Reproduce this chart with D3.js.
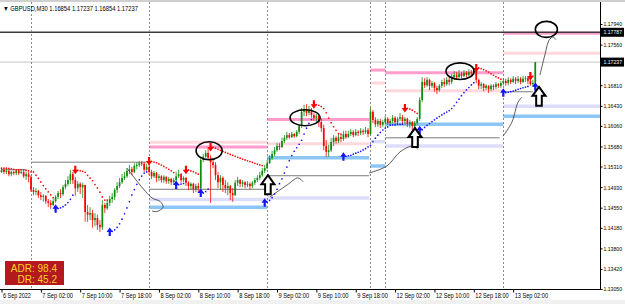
<!DOCTYPE html>
<html>
<head>
<meta charset="utf-8">
<script src="https://cdn.jsdelivr.net/npm/d3@7"></script>
<style>
body { margin: 0; background: #fff; }
svg { display: block; }
</style>
</head>
<body>
<svg id="chart" width="625" height="304"></svg>
<script>
// GBPUSD M30 bars, 6 Sep 17:30 -> 13 Sep 06:30 (open of a bar = close of the previous one)
const firstOpen = 1.1521;
const closes = [
  1.1525, 1.1521, 1.1523, 1.1517, 1.1521, 1.1519, 1.1523, 1.1519, 1.1521, 1.1513, 1.1517, 1.1512,
  1.1488, 1.1484, 1.1486, 1.1478, 1.1475, 1.1477, 1.1467, 1.1464, 1.1460, 1.1467, 1.1475, 1.1482,
  1.1480, 1.1493, 1.1499, 1.1506, 1.1517, 1.1506, 1.1491, 1.1499, 1.1493, 1.1497, 1.1447, 1.1442,
  1.1445, 1.1432, 1.1436, 1.1423, 1.1419, 1.1460, 1.1454, 1.1464, 1.1471, 1.1475, 1.1488, 1.1495,
  1.1502, 1.1510, 1.1513, 1.1523, 1.1526, 1.1521, 1.1532, 1.1534, 1.1537, 1.1536, 1.1525, 1.1530,
  1.1521, 1.1513, 1.1519, 1.1510, 1.1513, 1.1506, 1.1512, 1.1504, 1.1508, 1.1502, 1.1506, 1.1513,
  1.1517, 1.1506, 1.1510, 1.1501, 1.1495, 1.1499, 1.1489, 1.1495, 1.1491, 1.1543, 1.1549, 1.1556,
  1.1547, 1.1539, 1.1534, 1.1515, 1.1502, 1.1510, 1.1497, 1.1491, 1.1495, 1.1482, 1.1478, 1.1501,
  1.1506, 1.1499, 1.1502, 1.1497, 1.1499, 1.1495, 1.1501, 1.1506, 1.1510, 1.1515, 1.1523, 1.1528,
  1.1537, 1.1547, 1.1554, 1.1561, 1.1569, 1.1567, 1.1578, 1.1584, 1.1589, 1.1585, 1.1591, 1.1587,
  1.1595, 1.1606, 1.1632, 1.1635, 1.1630, 1.1635, 1.1626, 1.1621, 1.1624, 1.1613, 1.1602, 1.1569,
  1.1558, 1.1561, 1.1576, 1.1584, 1.1578, 1.1585, 1.1582, 1.1591, 1.1585, 1.1591, 1.1595, 1.1589,
  1.1595, 1.1593, 1.1597, 1.1595, 1.1598, 1.1591, 1.1632, 1.1617, 1.1609, 1.1615, 1.1608, 1.1613,
  1.1619, 1.1611, 1.1615, 1.1621, 1.1613, 1.1619, 1.1622, 1.1615, 1.1619, 1.1609, 1.1613, 1.1606,
  1.1611, 1.1619, 1.1654, 1.1687, 1.1681, 1.1691, 1.1680, 1.1685, 1.1676, 1.1672, 1.1680, 1.1687,
  1.1683, 1.1691, 1.1687, 1.1696, 1.1700, 1.1696, 1.1702, 1.1698, 1.1704, 1.1700, 1.1705, 1.1704,
  1.1707, 1.1691, 1.1680, 1.1683, 1.1676, 1.1680, 1.1674, 1.1680, 1.1678, 1.1683, 1.1680, 1.1685,
  1.1689, 1.1685, 1.1691, 1.1687, 1.1693, 1.1689, 1.1693, 1.1687, 1.1693, 1.1694, 1.1689, 1.1683,
  1.16854, 1.17237
];
const highs = [
  1.1528, 1.1526, 1.1526, 1.1525, 1.1523, 1.1523, 1.1525, 1.1525, 1.1523, 1.1523, 1.1521, 1.1521,
  1.1515, 1.1493, 1.1491, 1.1488, 1.1484, 1.1480, 1.1478, 1.1471, 1.1469, 1.1471, 1.1478, 1.1486,
  1.1489, 1.1497, 1.1506, 1.1513, 1.1525, 1.1521, 1.1512, 1.1504, 1.1502, 1.1501, 1.1497, 1.1460,
  1.1456, 1.1451, 1.1445, 1.1442, 1.1432, 1.1469, 1.1464, 1.1469, 1.1477, 1.1482, 1.1491, 1.1502,
  1.1510, 1.1517, 1.1521, 1.1528, 1.1534, 1.1530, 1.1537, 1.1539, 1.1541, 1.1541, 1.1539, 1.1536,
  1.1537, 1.1525, 1.1523, 1.1521, 1.1517, 1.1515, 1.1515, 1.1513, 1.1512, 1.1510, 1.1510, 1.1521,
  1.1525, 1.1519, 1.1513, 1.1512, 1.1504, 1.1502, 1.1501, 1.1499, 1.1501, 1.1549, 1.1554, 1.1561,
  1.1567, 1.1552, 1.1547, 1.1539, 1.1521, 1.1515, 1.1513, 1.1506, 1.1502, 1.1497, 1.1491, 1.1506,
  1.1512, 1.1508, 1.1506, 1.1504, 1.1504, 1.1502, 1.1504, 1.1510, 1.1515, 1.1521, 1.1528, 1.1534,
  1.1543, 1.1552, 1.1560, 1.1567, 1.1574, 1.1574, 1.1584, 1.1589, 1.1595, 1.1593, 1.1595, 1.1593,
  1.1598, 1.1609, 1.1639, 1.1645, 1.1646, 1.1643, 1.1639, 1.1630, 1.1628, 1.1626, 1.1619, 1.1608,
  1.1580, 1.1571, 1.1584, 1.1589, 1.1587, 1.1591, 1.1591, 1.1597, 1.1597, 1.1597, 1.1600, 1.1598,
  1.1600, 1.1598, 1.1602, 1.1600, 1.1604, 1.1602, 1.1639, 1.1635, 1.1622, 1.1619, 1.1619, 1.1617,
  1.1624, 1.1622, 1.1619, 1.1626, 1.1624, 1.1622, 1.1630, 1.1626, 1.1622, 1.1621, 1.1617, 1.1615,
  1.1615, 1.1622, 1.1659, 1.1696, 1.1694, 1.1696, 1.1693, 1.1689, 1.1687, 1.1680, 1.1683, 1.1691,
  1.1694, 1.1696, 1.1698, 1.1702, 1.1707, 1.1705, 1.1709, 1.1705, 1.1709, 1.1707, 1.1711, 1.1709,
  1.1713, 1.1709, 1.1693, 1.1687, 1.1685, 1.1683, 1.1681, 1.1683, 1.1683, 1.1687, 1.1685, 1.1689,
  1.1694, 1.1693, 1.1696, 1.1694, 1.1698, 1.1696, 1.1698, 1.1696, 1.1698, 1.1698, 1.1698, 1.1693,
  1.1691, 1.17237
];
const lows = [
  1.1519, 1.1517, 1.1517, 1.1513, 1.1513, 1.1515, 1.1515, 1.1515, 1.1517, 1.1510, 1.1506, 1.1502,
  1.1484, 1.1478, 1.1478, 1.1473, 1.1469, 1.1466, 1.1462, 1.1456, 1.1453, 1.1458, 1.1464, 1.1471,
  1.1473, 1.1477, 1.1489, 1.1495, 1.1499, 1.1499, 1.1477, 1.1484, 1.1480, 1.1473, 1.1429, 1.1429,
  1.1432, 1.1418, 1.1421, 1.1414, 1.1410, 1.1414, 1.1445, 1.1451, 1.1458, 1.1464, 1.1469, 1.1482,
  1.1491, 1.1499, 1.1506, 1.1510, 1.1517, 1.1515, 1.1519, 1.1526, 1.1530, 1.1532, 1.1521, 1.1523,
  1.1515, 1.1508, 1.1510, 1.1502, 1.1504, 1.1501, 1.1501, 1.1499, 1.1499, 1.1497, 1.1499, 1.1502,
  1.1510, 1.1501, 1.1502, 1.1495, 1.1488, 1.1488, 1.1482, 1.1484, 1.1482, 1.1488, 1.1539, 1.1547,
  1.1543, 1.1464, 1.1528, 1.1506, 1.1491, 1.1488, 1.1484, 1.1482, 1.1478, 1.1469, 1.1466, 1.1477,
  1.1495, 1.1493, 1.1493, 1.1491, 1.1493, 1.1489, 1.1491, 1.1497, 1.1502, 1.1506, 1.1512, 1.1519,
  1.1526, 1.1536, 1.1543, 1.1550, 1.1558, 1.1561, 1.1565, 1.1574, 1.1580, 1.1582, 1.1584, 1.1584,
  1.1585, 1.1591, 1.1602, 1.1624, 1.1624, 1.1626, 1.1621, 1.1615, 1.1613, 1.1604, 1.1595, 1.1561,
  1.1549, 1.1549, 1.1558, 1.1569, 1.1573, 1.1574, 1.1576, 1.1578, 1.1582, 1.1584, 1.1587, 1.1585,
  1.1587, 1.1587, 1.1589, 1.1589, 1.1591, 1.1585, 1.1589, 1.1611, 1.1604, 1.1604, 1.1602, 1.1604,
  1.1608, 1.1608, 1.1608, 1.1611, 1.1609, 1.1609, 1.1615, 1.1609, 1.1608, 1.1604, 1.1602, 1.1598,
  1.1602, 1.1608, 1.1615, 1.1650, 1.1676, 1.1678, 1.1672, 1.1676, 1.1669, 1.1665, 1.1669, 1.1676,
  1.1678, 1.1680, 1.1681, 1.1683, 1.1693, 1.1691, 1.1694, 1.1694, 1.1696, 1.1696, 1.1698, 1.1698,
  1.1700, 1.1685, 1.1674, 1.1674, 1.1670, 1.1672, 1.1667, 1.1670, 1.1672, 1.1674, 1.1676, 1.1676,
  1.1681, 1.1680, 1.1681, 1.1683, 1.1685, 1.1683, 1.1685, 1.1683, 1.1685, 1.1687, 1.1683, 1.1680,
  1.1678, 1.16854
];

// axis ticks
const timeTickIdx = [0, 16, 32, 48, 64, 80, 96, 112, 128, 144, 160, 176, 192, 208];
const timeTickLabels = ["6 Sep 2022", "7 Sep 02:00", "7 Sep 10:00", "7 Sep 18:00", "8 Sep 02:00",
  "8 Sep 10:00", "8 Sep 18:00", "9 Sep 02:00", "9 Sep 10:00", "9 Sep 18:00", "12 Sep 02:00",
  "12 Sep 10:00", "12 Sep 18:00", "13 Sep 02:00"];
const priceTicks = [1.1794, 1.1756, 1.1681, 1.1643, 1.1606, 1.1568, 1.1531, 1.1493,
  1.1455, 1.1418, 1.1380, 1.1342, 1.1305];
const separatorIdx = [12, 60, 108, 150, 156, 204];
const markedPrice = 1.17787;
const lastPrice = 1.17237;
const titleText = "\u25BC GBPUSD,M30  1.16854 1.17237 1.16854 1.17237";
const adrText = ["ADR: 98.4", "DR: 45.2"];

// daily levels: [from bar, to bar, price, kind]
const levels = [
  [0, 10, 1.1525, "gray"],
  [12, 59, 1.1539, "gray"],
  [60, 108, 1.1576, "pinkLight"], [60, 108, 1.1567, "pink"], [60, 108, 1.1489, "gray"],
  [60, 108, 1.1470, "lavender"], [60, 108, 1.1456, "blue"],
  [108, 149.5, 1.1618, "pink"], [108, 149.5, 1.1573, "pinkLight"], [108, 149.5, 1.1547, "blue"],
  [108, 149.5, 1.1514, "gray"], [108, 149.5, 1.1473, "lavender"],
  [150, 156, 1.1709, "pink"], [150, 156, 1.1685, "pinkLight"], [150, 156, 1.1577, "lavender"],
  [150, 156, 1.1532, "blue"],
  [156, 204, 1.1704, "pink"], [156, 204, 1.1671, "pinkLight"], [156, 204, 1.1609, "blue"],
  [156, 202.5, 1.1584, "gray"], [156, 204, 1.1569, "lavender"],
  [204, 243.3, 1.1777, "pink"], [204, 243.3, 1.1740, "pinkLight"], [204, 216, 1.1669, "gray"],
  [204, 243.3, 1.1642, "lavender"], [204, 243.3, 1.1624, "blue"]
];

// hand drawn marks, in [bar, price]
const circles = [[84.4, 1.1560], [123.4, 1.1621], [186.4, 1.1707], [221.5, 1.1784]];
const bigArrows = [[108.3, 1.1515], [168.1, 1.1602], [218.5, 1.1678]];
const strokes = [
  [[51, 1.1528], [61.2, 1.1473], [64.4, 1.1467], [65.7, 1.1456], [63.2, 1.1448], [61.2, 1.1449]],
  [[109.2, 1.1475], [116.1, 1.1497], [120.5, 1.1510], [122.6, 1.1503]],
  [[149.4, 1.1519], [156.7, 1.1532], [162, 1.1558], [167.3, 1.1569], [169.3, 1.1563]],
  [[203.9, 1.1587], [207.5, 1.1613], [210, 1.1650], [211.6, 1.1659]],
  [[218.9, 1.1700], [220.9, 1.1737], [222.6, 1.1764], [224.2, 1.1770], [225.4, 1.1765]]
];

// ---------------- rendering ----------------
const PLOT_RIGHT = 600, PLOT_TOP = 2, PLOT_BOTTOM = 289;
const GREEN = "#0e8c0e", RED = "#ff0000", BLUE = "#1414ff";
const levelStyle = {
  pink: ["#ff9ccb", 3], pinkLight: ["#ffd8de", 3], blue: ["#8cc6f6", 3.5],
  lavender: ["#dcdcfb", 3.5], gray: ["#7a7a7a", 1]
};
const circleR = [[13, 9], [15, 8], [14, 8.3], [11, 8]];
const LABEL_FONT = "Liberation Sans, Arial, sans-serif";

const svg = d3.select("#chart");
const x = d3.scaleLinear().domain([0, 217]).range([1.5, 535.3]);
const y = d3.scaleLinear().domain([1.1305, 1.1794]).range([289, 24]);

const bars = closes.map((c, i) => {
  const o = i ? closes[i - 1] : firstOpen;
  return { i, o, c, h: Math.max(highs[i], o, c), l: Math.min(lows[i], o, c) };
});

// Parabolic SAR (0.02 / 0.2)
function parabolicSar(hs, ls, step, maxStep) {
  const out = [];
  let up = false, af = step, ep = ls[0], sar = hs[0];
  out.push({ i: 0, sar, up, flip: false });
  for (let i = 1; i < hs.length; i++) {
    sar = sar + af * (ep - sar);
    let flip = false;
    if (up) {
      sar = Math.min(sar, ls[i - 1], ls[Math.max(0, i - 2)]);
      if (ls[i] < sar) { up = false; flip = true; sar = ep; ep = ls[i]; af = step; }
      else if (hs[i] > ep) { ep = hs[i]; af = Math.min(af + step, maxStep); }
    } else {
      sar = Math.max(sar, hs[i - 1], hs[Math.max(0, i - 2)]);
      if (hs[i] > sar) { up = true; flip = true; sar = ep; ep = hs[i]; af = step; }
      else if (ls[i] < ep) { ep = ls[i]; af = Math.min(af + step, maxStep); }
    }
    out.push({ i, sar, up, flip });
  }
  return out;
}
const sar = parabolicSar(bars.map(d => d.h), bars.map(d => d.l), 0.02, 0.2);

svg.append("rect").attr("width", 625).attr("height", 304).attr("fill", "#fff");
svg.append("rect").attr("y", 300).attr("width", 625).attr("height", 4).attr("fill", "#f0f0f0");
svg.append("rect").attr("width", 625).attr("height", PLOT_TOP).attr("fill", "#cfcfcf");

svg.append("clipPath").attr("id", "plot")
  .append("rect").attr("x", 0).attr("y", PLOT_TOP)
  .attr("width", PLOT_RIGHT).attr("height", PLOT_BOTTOM - PLOT_TOP);
const plot = svg.append("g").attr("clip-path", "url(#plot)");

// level bands
plot.append("g").selectAll("line").data(levels).join("line")
  .attr("x1", d => x(d[0])).attr("x2", d => x(d[1]))
  .attr("y1", d => y(d[2])).attr("y2", d => y(d[2]))
  .attr("stroke", d => levelStyle[d[3]][0])
  .attr("stroke-width", d => levelStyle[d[3]][1]);

// price lines
plot.append("line").attr("x1", 0).attr("x2", PLOT_RIGHT)
  .attr("y1", y(lastPrice)).attr("y2", y(lastPrice))
  .attr("stroke", "#c4c4c4").attr("stroke-width", 1);
plot.append("line").attr("x1", 0).attr("x2", PLOT_RIGHT)
  .attr("y1", y(markedPrice)).attr("y2", y(markedPrice))
  .attr("stroke", "#3a3a3a").attr("stroke-width", 1.6);

// day separators
plot.append("g").selectAll("line").data(separatorIdx).join("line")
  .attr("x1", d => Math.round(x(d)) + 0.5).attr("x2", d => Math.round(x(d)) + 0.5)
  .attr("y1", PLOT_TOP).attr("y2", PLOT_BOTTOM)
  .attr("stroke", "#8a8a8a").attr("stroke-width", 1).attr("stroke-dasharray", "2,2");

// candles
const barColor = d => d.c >= d.o ? GREEN : RED;
const gBars = plot.append("g");
gBars.selectAll("line").data(bars).join("line")
  .attr("x1", d => x(d.i)).attr("x2", d => x(d.i))
  .attr("y1", d => y(d.h)).attr("y2", d => y(d.l))
  .attr("stroke", barColor).attr("stroke-width", 0.8);
gBars.selectAll("rect").data(bars).join("rect")
  .attr("x", d => x(d.i) - 0.85).attr("width", 1.7)
  .attr("y", d => y(Math.max(d.o, d.c)))
  .attr("height", d => Math.max(0.8, Math.abs(y(d.o) - y(d.c))))
  .attr("fill", barColor);

// SAR dots and flip arrows
plot.append("g").selectAll("circle").data(sar.filter(d => !d.flip)).join("circle")
  .attr("cx", d => x(d.i)).attr("cy", d => y(d.sar)).attr("r", 0.85)
  .attr("fill", d => d.up ? BLUE : RED);
const smallArrow = "M0,-4.5 L3.2,0 L1.1,0 L1.1,4 L-1.1,4 L-1.1,0 L-3.2,0 Z";
plot.append("g").selectAll("path").data(sar.filter(d => d.flip)).join("path")
  .attr("d", smallArrow)
  .attr("transform", d => `translate(${x(d.i)},${y(d.sar)}) rotate(${d.up ? 0 : 180})`)
  .attr("fill", d => d.up ? BLUE : RED);

// hand drawn strokes
const strokeLine = d3.line().x(d => x(d[0])).y(d => y(d[1])).curve(d3.curveCatmullRom);
plot.append("g").selectAll("path").data(strokes).join("path")
  .attr("d", strokeLine).attr("fill", "none")
  .attr("stroke", "#333").attr("stroke-width", 0.8);

// circles
plot.append("g").selectAll("ellipse").data(circles).join("ellipse")
  .attr("cx", d => x(d[0])).attr("cy", d => y(d[1]))
  .attr("rx", (d, i) => circleR[i][0]).attr("ry", (d, i) => circleR[i][1])
  .attr("fill", "none").attr("stroke", "#000").attr("stroke-width", 1.6);

// hollow up arrows
const bigArrow = "M0,0 L6.5,9 L2.8,9 L2.8,19 L-2.8,19 L-2.8,9 L-6.5,9 Z";
plot.append("g").selectAll("path").data(bigArrows).join("path")
  .attr("d", bigArrow)
  .attr("transform", d => `translate(${x(d[0])},${y(d[1])})`)
  .attr("fill", "#fff").attr("stroke", "#000").attr("stroke-width", 2)
  .attr("stroke-linejoin", "miter");

// ADR box
const adr = svg.append("g");
adr.append("rect").attr("x", 5).attr("y", 261).attr("width", 59).attr("height", 24)
  .attr("fill", "#b3191d");
adr.selectAll("text").data(adrText).join("text")
  .attr("x", 57).attr("y", (d, i) => 271.5 + i * 11)
  .attr("text-anchor", "end")
  .attr("font-family", LABEL_FONT).attr("font-size", 10)
  .attr("fill", "#ffd21f").text(d => d);

// right price axis
const yAxis = svg.append("g").attr("transform", `translate(${PLOT_RIGHT + 0.5},0)`)
  .call(d3.axisRight(y).tickValues(priceTicks).tickFormat(d3.format(".5f")).tickSize(2).tickPadding(1));
yAxis.select(".domain").remove();
yAxis.selectAll("line").attr("stroke", "#000");
yAxis.selectAll("text")
  .attr("font-family", LABEL_FONT).attr("font-size", 6)
  .attr("fill", "#000").attr("textLength", 18.5).attr("lengthAdjust", "spacingAndGlyphs");
svg.append("line").attr("x1", PLOT_RIGHT + 0.5).attr("x2", PLOT_RIGHT + 0.5)
  .attr("y1", PLOT_TOP).attr("y2", PLOT_BOTTOM + 0.5).attr("stroke", "#000");

// highlighted prices on the axis
const tags = svg.append("g").selectAll("g").data([markedPrice, lastPrice]).join("g")
  .attr("transform", d => `translate(${PLOT_RIGHT + 1},${y(d)})`);
tags.append("rect").attr("x", 0).attr("y", -4.5).attr("width", 23).attr("height", 9).attr("fill", "#000");
tags.append("text").attr("x", 2.5).attr("y", 2.2)
  .attr("font-family", LABEL_FONT).attr("font-size", 6)
  .attr("fill", "#fff").attr("textLength", 18.5).attr("lengthAdjust", "spacingAndGlyphs")
  .text(d => d3.format(".5f")(d));

// bottom time axis
svg.append("line").attr("x1", 0).attr("x2", PLOT_RIGHT + 0.5)
  .attr("y1", PLOT_BOTTOM + 0.5).attr("y2", PLOT_BOTTOM + 0.5).attr("stroke", "#000");
const xAxis = svg.append("g").attr("transform", `translate(0,${PLOT_BOTTOM + 0.5})`)
  .call(d3.axisBottom(x).tickValues(timeTickIdx).tickFormat((d, i) => timeTickLabels[i]).tickSize(3));
xAxis.select(".domain").remove();
xAxis.selectAll("line").attr("stroke", "#000");
xAxis.selectAll("text")
  .attr("text-anchor", "start").attr("x", 1).attr("y", 4).attr("dy", "0.71em")
  .attr("font-family", LABEL_FONT).attr("font-size", 6.5)
  .attr("fill", "#000")
  .attr("textLength", (d, i) => timeTickLabels[i].length * 2.78)
  .attr("lengthAdjust", "spacingAndGlyphs");

// title
svg.append("text").attr("x", 3).attr("y", 10.5)
  .attr("font-family", LABEL_FONT).attr("font-size", 7)
  .attr("fill", "#000").attr("textLength", 135).attr("lengthAdjust", "spacingAndGlyphs")
  .text(titleText);
</script>
</body>
</html>
